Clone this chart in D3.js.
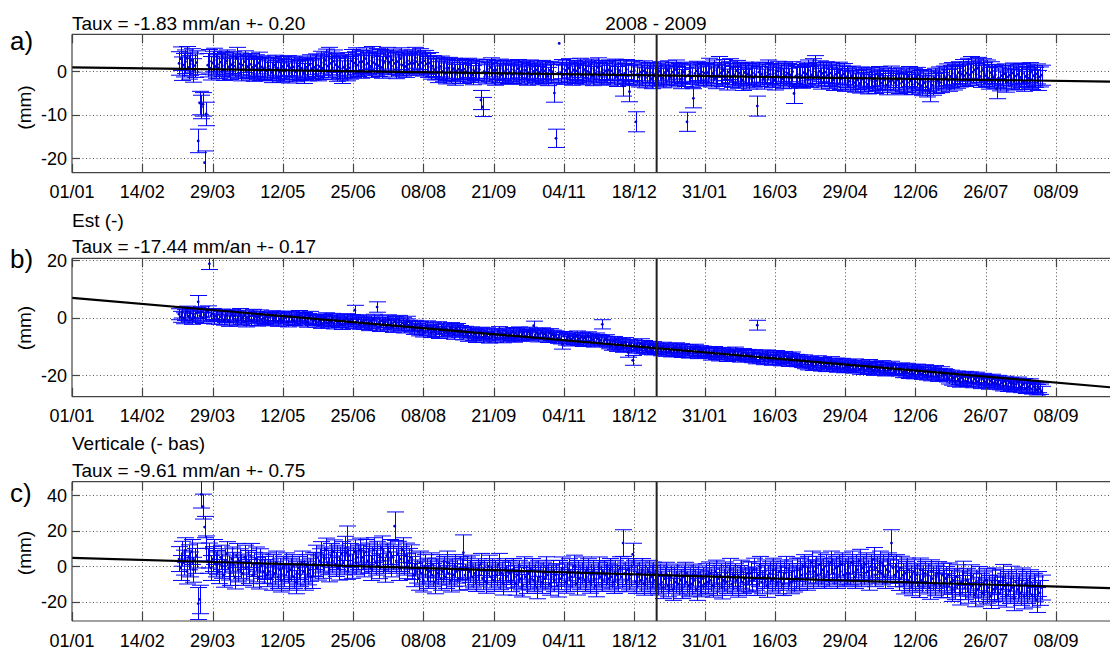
<!DOCTYPE html>
<html><head><meta charset="utf-8">
<script src="https://cdn.jsdelivr.net/npm/d3@7"></script>
<style>
body{margin:0;background:#fff;overflow:hidden}
svg{display:block;font-family:"Liberation Sans",Arial,Helvetica,sans-serif}
</style>
</head><body>
<svg id="chart" width="1110" height="650"></svg>
<script>
// ---------------- DATA ----------------
const axisStart = "2008-01-01", axisEnd = "2010-01-01", yearBreak = "2009-01-01";
const firstDay = "2008-03-08", lastDay = "2009-08-30";   // daily solutions
const tickDates = ["2008-01-01","2008-02-14","2008-03-29","2008-05-12","2008-06-25","2008-08-08",
  "2008-09-21","2008-11-04","2008-12-18","2009-01-31","2009-03-16","2009-04-29","2009-06-12",
  "2009-07-26","2009-09-08"];
const panelLetters = ["a)","b)","c)"];
const componentNames = ["", "Est (-)", "Verticale (- bas)"];
const rateTexts = ["Taux = -1.83 mm/an +- 0.20","Taux = -17.44 mm/an +- 0.17","Taux = -9.61 mm/an +- 0.75"];
const periodText = "2008 - 2009";
const yTicksA = [0,-10,-20], yTicksB = [20,0,-20], yTicksC = [40,20,0,-20];

// panel a (mm), Mar 2008 ... Aug 2009
const valsA = [
 1.8,2.9,0.6,1.4,2.2,3.0,0.9,1.7,2.5,0.2,1.3,2.0,-16.0,-7.3,-8.2,-7.6,-21.0,-9.8,1.4,2.3,0.7,1.9,2.6,1.1,
 1.6,0.8,2.1,1.3,0.4,1.8,2.4,1.0,0.6,1.5,2.0,1.2,3.0,0.9,1.7,0.3,1.4,2.2,0.8,1.1,0.5,1.6,0.9,0.2,1.3,0.7,1.9,0.4,1.0,0.6,
 0.8,0.1,1.2,0.5,-0.3,0.9,1.4,0.2,0.7,-0.2,0.6,1.1,0.0,0.4,1.3,-0.4,0.8,0.3,1.0,-0.1,0.5,1.2,0.2,0.7,-0.5,0.4,0.9,0.1,1.5,0.6,0.3,
 0.9,1.4,0.4,1.1,2.0,0.7,1.6,2.5,1.2,2.9,1.8,0.8,2.3,1.5,0.3,1.0,0.6,-0.2,0.9,1.3,0.4,1.7,0.8,2.4,1.2,1.9,2.8,1.4,2.1,1.0,
 2.2,1.5,2.9,1.8,2.4,1.1,3.2,2.0,1.6,2.7,1.3,2.5,0.9,1.9,2.3,3.0,1.7,2.1,1.2,2.6,1.8,0.8,2.2,1.5,2.9,1.4,2.0,1.1,2.4,1.6,1.9,
 2.5,1.8,3.1,2.2,1.5,2.8,2.0,1.3,2.4,1.7,1.0,1.9,0.6,1.2,0.4,0.9,-0.2,0.5,1.1,0.0,0.7,-0.5,0.3,0.8,-0.3,0.2,0.6,-0.8,0.1,0.5,-0.4,
 0.2,-0.6,0.5,-0.1,0.8,-0.4,0.3,-0.9,0.1,0.6,-0.3,0.4,-6.6,-8.2,0.0,-0.7,0.5,-0.2,0.9,-0.5,0.2,-1.0,0.3,-0.4,0.6,-0.8,0.1,-0.3,0.4,-0.6,
 -0.2,0.4,-0.7,0.1,-0.4,0.6,-0.9,-0.1,0.3,-0.6,0.2,-1.1,-0.3,0.5,-0.8,0.0,-0.5,0.3,-1.0,-0.2,0.4,-0.7,0.1,-0.4,-1.2,0.2,-0.6,-0.1,-5.0,-15.4,-0.5,
 6.4,-0.3,0.5,-0.8,0.2,-0.5,0.7,-0.2,-1.0,0.3,-0.6,0.1,-0.4,0.8,-0.9,-0.1,0.4,-0.7,0.0,-0.3,0.6,-1.1,0.2,-0.5,0.9,-0.2,-0.8,0.3,-0.4,0.1,
 -0.4,0.3,-0.9,0.1,-0.6,0.5,-1.2,-0.2,0.2,-0.7,-3.4,-0.5,0.4,-1.0,-4.7,-0.1,-0.8,0.2,-11.6,-0.6,-1.3,-0.2,-0.9,0.1,-1.5,-0.4,-1.0,-0.3,-1.7,-0.6,-1.1,
 -0.5,-1.2,0.0,-0.8,-1.6,-0.3,-1.0,0.2,-0.7,-1.4,-0.2,-0.9,0.4,-1.1,-0.4,-1.8,-0.6,-0.1,-1.3,-11.6,-0.8,-0.3,-1.5,-6.2,-0.5,0.1,-1.2,-0.7,-0.2,-1.0,-0.4,
 -0.9,-0.3,0.6,-1.2,-0.5,0.2,-1.6,-0.8,1.0,-0.4,-1.1,0.3,-0.7,-1.9,-0.2,0.5,-1.3,-0.6,-1.0,0.1,-1.5,-0.4,-0.9,-2.0,-0.3,-1.2,-0.6,-1.7,
 -1.0,-0.4,-1.5,-0.8,-8.0,-0.2,-1.2,-0.6,-1.8,-0.3,-1.1,0.3,-0.7,-1.4,-0.5,-2.0,-0.9,0.0,-1.3,-0.6,-1.7,-0.2,-1.0,-0.5,-1.6,-0.8,-0.1,-5.1,-1.2,-0.7,-1.4,
 -0.9,-1.5,-0.3,-1.1,-0.6,0.2,-1.3,-0.8,0.5,1.2,-0.4,-1.0,0.0,-1.7,-0.5,-1.2,-0.2,-0.9,-1.6,-0.4,-1.1,-2.0,-0.7,-1.4,-0.3,-1.8,-1.0,-0.6,-2.2,-1.3,
 -1.6,-2.3,-1.0,-1.9,-2.6,-1.4,-2.0,-2.8,-1.2,-1.8,-2.5,-1.5,-3.0,-2.1,-1.3,-2.4,-1.7,-2.9,-2.2,-1.1,-1.9,-2.7,-1.4,-2.0,-3.2,-1.6,-2.3,-1.0,-2.1,-2.6,-1.5,
 -2.0,-2.8,-1.5,-2.4,-3.1,-1.8,-2.6,-1.2,-2.2,-3.0,-1.7,-2.5,-1.4,-2.9,-2.1,-3.3,-1.9,-2.7,-3.6,-2.3,-4.7,-2.0,-3.2,-1.6,-2.8,-2.2,-1.3,-2.6,-1.8,-1.1,
 -1.5,-0.8,-2.1,-1.2,-0.5,-1.8,-0.9,-1.4,-0.3,-1.1,-0.6,0.2,-1.0,-0.4,0.5,-0.8,0.9,-0.2,0.3,-0.7,0.7,-0.1,-1.2,0.4,-0.5,-1.0,0.1,-1.6,-0.3,-0.9,-1.4,
 -0.8,-4.0,-1.5,-2.2,-1.0,-1.8,-0.6,-2.5,-1.3,-0.9,-1.7,-0.4,-2.0,-1.1,-0.7,-1.9,-1.4,-0.5,-2.3,-1.2,-0.8,-1.6,-0.3,-1.9,-1.0,-1.4,-0.6,-2.1,-1.3,-0.9
];
// panel b, East (mm)
const valsB = [
 1.2,0.3,1.8,-0.2,0.9,2.1,0.5,1.4,-0.4,1.0,0.2,1.6,5.5,0.7,1.9,-0.1,1.1,0.4,2.2,18.7,0.8,1.3,-0.3,0.6,
 0.9,-0.5,0.4,1.2,-0.8,0.1,0.7,-1.2,0.3,1.0,-0.4,0.6,-1.0,0.2,1.4,-0.6,-0.1,0.8,-1.4,0.0,0.5,-0.9,1.1,-0.3,0.4,-1.1,0.2,0.9,-0.7,-0.2,
 -0.6,0.3,-1.1,0.1,0.7,-0.8,-0.2,0.5,-1.3,-0.4,0.2,-0.9,0.6,-0.1,-1.5,0.0,0.4,-0.7,-1.0,0.3,-0.5,0.8,-1.2,-0.3,0.1,-0.8,-1.6,-0.2,0.5,-0.6,-1.0,
 -0.8,-1.6,-0.4,-1.1,-2.0,-0.6,-1.3,0.0,-1.8,-0.9,-1.4,-0.2,-2.2,-1.0,-0.5,-1.7,-1.2,-2.4,-0.7,-1.5,-0.3,-1.9,-1.1,-0.6,-2.1,2.6,-1.4,-0.8,-2.3,-1.6,
 -1.5,-2.3,-0.9,-1.8,-2.7,-1.2,-2.0,-0.6,-2.5,3.7,-1.7,-3.0,-1.1,-2.2,-1.6,-2.8,-0.8,-2.4,-1.9,-3.3,-1.4,-2.1,-2.9,-1.0,-2.6,-1.8,-3.5,-2.2,-1.3,-2.7,-3.1,
 -3.2,-4.1,-2.6,-3.7,-4.6,-3.0,-4.3,-5.0,-3.5,-2.8,-4.4,-3.9,-5.2,-3.3,-4.8,-4.0,-3.1,-5.5,-4.2,-3.6,-4.9,-3.8,-5.3,-4.5,-3.4,-4.7,-5.8,-4.1,-3.7,-5.1,-4.4,
 -5.0,-6.1,-4.6,-5.5,-6.6,-5.2,-4.8,-6.3,-5.7,-7.0,-5.3,-6.0,-4.9,-6.8,-5.6,-6.4,-5.1,-7.2,-5.9,-6.5,-5.4,-6.9,-5.8,-4.7,-6.2,-5.5,-7.1,-6.0,-5.2,-6.6,
 -5.6,-6.3,-5.0,-6.9,-5.4,-6.1,-4.8,-6.6,-5.9,-5.2,-6.4,-5.7,-4.9,-6.2,-5.5,-2.8,-6.0,-5.3,-6.8,-5.8,-5.1,-6.5,-5.6,-6.1,-7.0,-5.4,-6.3,-5.9,-6.7,-6.2,-7.3,
 -6.8,-7.5,-9.3,-6.4,-7.9,-7.1,-6.6,-8.2,-7.4,-6.9,-7.7,-6.2,-8.0,-7.3,-6.7,-8.4,-7.0,-7.8,-6.5,-8.1,-7.2,-7.6,-8.6,-6.9,-7.4,-8.3,-7.8,-2.3,-8.0,-7.5,
 -8.4,-9.1,-8.7,-9.6,-8.2,-9.3,-10.0,-8.8,-9.5,-9.0,-10.3,-8.6,-9.8,-12.0,-9.2,-10.1,-14.8,-9.4,-10.6,-9.7,-10.2,-9.0,-10.8,-9.6,-10.4,-11.0,-9.9,-10.5,-11.2,-10.0,-10.7,
 -10.4,-11.2,-10.7,-11.6,-10.1,-11.0,-11.8,-10.5,-11.3,-12.0,-10.8,-11.5,-10.3,-11.9,-11.1,-10.6,-12.2,-11.4,-10.9,-11.7,-12.4,-11.0,-11.6,-12.1,-10.8,-11.9,-12.6,-11.3,-12.0,-11.5,-12.3,
 -11.8,-12.5,-12.0,-13.1,-12.3,-11.6,-12.9,-12.2,-13.4,-12.7,-11.9,-13.0,-12.4,-13.6,-12.1,-12.8,-13.3,-12.5,-11.8,-13.2,-12.7,-13.8,-12.9,-12.3,-13.5,-13.0,-12.6,-13.7,
 -13.2,-13.9,-12.8,-14.3,-2.6,-13.5,-14.1,-13.0,-14.6,-13.7,-12.9,-14.4,-13.6,-14.8,-13.3,-14.0,-13.1,-14.5,-13.8,-15.0,-14.2,-13.4,-14.7,-13.9,-15.2,-14.1,-13.6,-14.9,-14.4,-15.3,-14.6,
 -15.0,-15.6,-14.6,-16.0,-15.3,-16.4,-15.1,-15.8,-16.6,-15.4,-16.2,-14.9,-15.7,-16.8,-15.5,-16.1,-17.0,-15.9,-16.5,-15.2,-16.9,-16.3,-15.7,-17.2,-16.0,-16.7,-15.8,-17.4,-16.4,-17.0,
 -16.3,-17.1,-16.6,-17.5,-16.0,-17.3,-16.8,-17.9,-16.4,-17.2,-18.0,-16.7,-17.6,-16.2,-17.8,-17.0,-18.3,-16.9,-17.4,-18.1,-17.2,-16.6,-17.9,-18.5,-17.3,-17.7,-18.2,-16.8,-17.6,-18.4,-17.9,
 -17.8,-18.4,-17.5,-19.0,-18.2,-18.8,-17.6,-19.3,-18.5,-18.0,-19.4,-18.7,-17.9,-19.1,-18.3,-19.6,-18.9,-18.1,-19.8,-19.2,-18.6,-20.1,-19.0,-18.4,-19.7,-20.3,-19.4,-18.8,-20.0,-19.5,
 -19.8,-20.5,-21.2,-20.0,-21.6,-20.8,-22.0,-20.3,-21.4,-22.3,-20.9,-21.7,-20.4,-22.1,-21.0,-20.6,-21.9,-22.5,-21.3,-20.7,-22.2,-21.5,-22.8,-21.1,-21.8,-22.4,-21.6,-23.0,-22.0,-21.4,-22.6,
 -22.3,-22.9,-21.8,-23.2,-22.6,-23.6,-22.1,-23.0,-23.8,-22.5,-23.4,-22.8,-24.0,-23.1,-22.4,-23.7,-24.2,-23.3,-22.9,-24.5,-23.6,-24.1,-23.0,-24.7,-23.9,-24.4,-25.0,-24.2,-24.8,-25.6
];
// panel c, Vertical (mm)
const valsC = [
 4,-1,7,2,9,-3,5,1,8,-2,3,6,-21,-18.7,40.3,33.5,22,10,3,6,-1,4,8,1,
 2,-3,5,0,-5,3,7,-1,-4,4,1,-6,6,-2,3,0,-4,5,-1,2,-3,6,-5,1,4,-2,-6,3,0,-3,
 -1,-5,1,-3,-7,0,-4,2,-6,-2,-8,-1,-5,1,-3,-7,-2,0,-6,-9,-4,-1,-5,2,-3,-7,0,-4,-2,-6,1,
 1,5,-1,3,7,0,4,9,2,-2,6,3,8,1,5,-1,4,7,2,10,7.6,3,6,0,4,8,2,5,9,3,
 5,1,8,3,6,-1,4,9,2,7,0,5,10,3,-2,6,4,8,1,5,22.5,3,7,-1,4,9,2,6,0,3,5,
 -1,-5,1,-3,-7,2,-4,-8,0,-2,-6,-3,1,-5,-9,-2,-4,0,-7,-3,-1,-6,2,-4,-8,-2,-5,0,-3,-7,-1,
 -2,7.6,-5,-1,-7,-3,0,-6,-4,-8,-2,-5,1,-7,-3,-9,-4,0,-6,-2,-8,-3,-5,1,-7,-4,-10,-2,-6,-3,
 -4,-8,-2,-6,-10,-5,-3,-7,-11,-1,-6,-9,-4,-7,-2,-8,-5,-12,-3,-6,-9,-4,-7,-1,-5,-10,-6,-3,-8,-5,-11,
 -3,-7,-1,-5,-9,-4,-2,-8,-6,0,-5,-10,-3,-7,-4,-1,-8,-6,-2,-9,-5,-3,-7,-11,-4,-1,-6,-8,-3,-5,
 -4,-7,-2,-6,-9,-3,-5,-8,-1,-6,13,-4,-8,-2,-7,-5,6.6,-3,-9,-6,-4,-8,-2,-10,-5,-7,-3,-9,-6,-4,-8,
 -6,-10,-5,-9,-12,-7,-4,-11,-8,-6,-13,-7,-9,-5,-10,-8,-12,-6,-4,-9,-11,-7,-10,-5,-8,-13,-6,-9,-11,-7,-10,
 -5,-9,-4,-8,-11,-6,-3,-10,-7,-5,-12,-8,-4,-9,-6,-2,-10,-7,-5,-8,-11,-6,-3,-9,-7,-10,-4,-8,
 -4,-8,-2,-7,-10,-5,-1,-9,-6,-3,-11,-6,-4,-8,-2,-7,-5,-9,-3,-6,-10,-4,-1,-7,-5,-9,-3,-8,-6,-2,-7,
 -2,-5,0,-4,-7,-1,-3,2,-6,-3,-1,-5,1,-4,-2,-6,0,-3,-5,2,-2,-4,-1,-6,0,-3,1,-5,-2,-4,
 -1,-4,2,-3,-6,0,-2,3,-5,-1,-4,1,-3,-7,0,-2,4,-5,-1,-3,2,-4,0,-6,-2,1,-3,13,-1,-5,0,
 -3,-7,-1,-5,-9,-4,-2,-8,-6,-10,-3,-7,-5,-11,-2,-8,-6,-4,-9,-5,-12,-3,-7,-10,-6,-4,-8,-11,-5,-9,
 -7,-11,-5,-9,-13,-8,-12,-6,-10,-15,-9,-4,-12,-8,-14,-10,-6,-11,-16,-9,-13,-7,-11,-15,-10,-8,-14,-12,-17,-9,-13,
 -8,-12,-15,-9,-13,-6,-11,-16,-10,-14,-7,-12,-18,-9,-13,-11,-15,-8,-17,-10,-14,-12,-9,-16,-11,-13,-19,-10,-15,-12
];
// typical 1-sigma per month (Mar 2008 ... Aug 2009) and per-day exceptions [index, sigma] (null = no bar)
const errMonthA = [2.7,2.5,2.3,2.6,2.5,2.4,2.2,2.1,2.2,2.3,2.2,2.4,2.3,2.4,2.2,2.3,2.5,2.3];
const errMonthB = [1.9,1.8,1.7,1.7,1.8,1.7,1.6,1.6,1.6,1.7,1.6,1.6,1.7,1.7,1.7,1.8,1.8,1.8];
const errMonthC = [7,6.8,6.5,6.8,7,6.5,6.2,6.3,6.2,6.3,6.2,6.4,6.5,6.5,6.5,6.6,6.8,7];
const errExceptA = [[238,null]];
const errExceptB = [[12,2.2],[19,2.0]];
const errExceptC = [[12,9],[13,8],[14,7.6],[15,7],[16,6],[105,15],[135,8],[178,10],[278,7.5],[446,7.5]];
// fitted trend, value at axis start and axis end (mm)
const trendA = [0.9,-2.76], trendB = [6.86,-28.0], trendC = [4.7,-14.5];

// ---------------- DRAWING ----------------
const parse = d3.utcParse("%Y-%m-%d");
const fmt = d3.utcFormat("%d/%m");
const svg = d3.select("#chart");
const X0 = 72, X1 = 1239.7;
const x = d3.scaleUtc().domain([parse(axisStart), parse(axisEnd)]).range([X0, X1]);
const days = d3.utcDay.range(parse(firstDay), d3.utcDay.offset(parse(lastDay), 1));
const monthIndex = d => (d.getUTCFullYear() - 2008) * 12 + d.getUTCMonth() - 2;

const panels = [
  {top:34.3, bottom:172.7, dom:[-23.3,8.5], vals:valsA, errM:errMonthA, exc:errExceptA, yt:yTicksA, trend:trendA,
   letterY:50, compY:null, rateY:30, ylabY:107.5},
  {top:258.3, bottom:396.7, dom:[-27.4,20.6], vals:valsB, errM:errMonthB, exc:errExceptB, yt:yTicksB, trend:trendB,
   letterY:268.3, compY:226.5, rateY:253.3, ylabY:328},
  {top:481.7, bottom:621, dom:[-30.8,47.5], vals:valsC, errM:errMonthC, exc:errExceptC, yt:yTicksC, trend:trendC,
   letterY:501.7, compY:450, rateY:476.7, ylabY:553}
];

const defs = svg.append("defs");
panels.forEach((p, k) => {
  const y = d3.scaleLinear().domain(p.dom).range([p.bottom, p.top]);
  const g = svg.append("g");
  const clipId = "clip" + k;
  defs.append("clipPath").attr("id", clipId).append("rect")
    .attr("x", X0).attr("y", p.top).attr("width", X1 - X0).attr("height", p.bottom - p.top);

  // grid
  const grid = g.append("g").attr("stroke", "#555").attr("stroke-width", 1).attr("stroke-dasharray", "1,2.5");
  tickDates.slice(1).forEach(t => {
    const xx = Math.round(x(parse(t))) + 0.5;
    grid.append("line").attr("x1", xx).attr("x2", xx).attr("y1", p.top).attr("y2", p.bottom);
  });
  p.yt.forEach(v => {
    const yy = Math.round(y(v)) + 0.5;
    grid.append("line").attr("x1", X0).attr("x2", X1).attr("y1", yy).attr("y2", yy);
  });

  // error bars
  const errs = days.map(d => p.errM[monthIndex(d)]);
  p.exc.forEach(([i, e]) => { errs[i] = e; });
  const data = days.map((d, i) => ({d, v: p.vals[i], e: errs[i]}));
  const eb = g.append("g").attr("clip-path", `url(#${clipId})`);
  const cap = 8.5;
  const path = d3.path();
  data.filter(o => o.e !== null).forEach(o => {
    const xx = Math.round(x(o.d)) + 0.5, yl = y(o.v - o.e), yh = y(o.v + o.e);
    path.moveTo(xx, yl); path.lineTo(xx, yh);
    path.moveTo(xx - cap, yl); path.lineTo(xx + cap, yl);
    path.moveTo(xx - cap, yh); path.lineTo(xx + cap, yh);
  });
  eb.append("path").attr("d", path.toString()).attr("fill", "none")
    .attr("stroke", "#0000ff").attr("stroke-width", 1);
  eb.selectAll("circle").data(data).join("circle")
    .attr("cx", o => x(o.d)).attr("cy", o => y(o.v)).attr("r", 1.4).attr("fill", "#0000cc");

  // trend
  g.append("line").attr("clip-path", `url(#${clipId})`)
    .attr("x1", x(parse(axisStart))).attr("y1", y(p.trend[0]))
    .attr("x2", x(parse(axisEnd))).attr("y2", y(p.trend[1]))
    .attr("stroke", "#000").attr("stroke-width", 2.2);

  // year separator
  const xb = x(parse(yearBreak));
  g.append("line").attr("x1", xb).attr("x2", xb).attr("y1", p.top).attr("y2", p.bottom)
    .attr("stroke", "#222").attr("stroke-width", 2);

  // axes box
  const ax = g.append("g").attr("stroke", "#444").attr("stroke-width", 1.2);
  ax.append("line").attr("x1", X0).attr("x2", X1).attr("y1", p.top).attr("y2", p.top);
  ax.append("line").attr("x1", X0).attr("x2", X1).attr("y1", p.bottom).attr("y2", p.bottom);
  ax.append("line").attr("x1", X0).attr("x2", X0).attr("y1", p.top).attr("y2", p.bottom);
  tickDates.forEach(t => {
    const xx = Math.round(x(parse(t))) + 0.5;
    ax.append("line").attr("x1", xx).attr("x2", xx).attr("y1", p.bottom).attr("y2", p.bottom - 9);
    ax.append("line").attr("x1", xx).attr("x2", xx).attr("y1", p.top).attr("y2", p.top + 9);
  });
  p.yt.forEach(v => {
    const yy = Math.round(y(v)) + 0.5;
    ax.append("line").attr("x1", X0).attr("x2", X0 + 8).attr("y1", yy).attr("y2", yy);
  });

  // tick labels
  const tl = g.append("g").attr("font-size", 18).attr("fill", "#000");
  tickDates.forEach(t => {
    tl.append("text").attr("x", x(parse(t))).attr("y", p.bottom + 25.5)
      .attr("text-anchor", "middle").text(fmt(parse(t)));
  });
  p.yt.forEach(v => {
    tl.append("text").attr("x", 67).attr("y", y(v)).attr("dy", "0.36em")
      .attr("text-anchor", "end").text(d3.format("d")(v).replace("−", "-"));
  });

  // labels
  g.append("text").attr("x", 10).attr("y", p.letterY).attr("font-size", 26).text(panelLetters[k]);
  g.append("text").attr("transform", `translate(31,${p.ylabY}) rotate(-90)`)
    .attr("text-anchor", "middle").attr("font-size", 19).text("(mm)");
  if (p.compY !== null) g.append("text").attr("x", 72).attr("y", p.compY).attr("font-size", 19).text(componentNames[k]);
  g.append("text").attr("x", 72).attr("y", p.rateY).attr("font-size", 19).text(rateTexts[k]);
  if (k === 0) g.append("text").attr("x", (X0 + X1) / 2).attr("y", p.rateY)
    .attr("text-anchor", "middle").attr("font-size", 19).text(periodText);
});
</script>
</body></html>
